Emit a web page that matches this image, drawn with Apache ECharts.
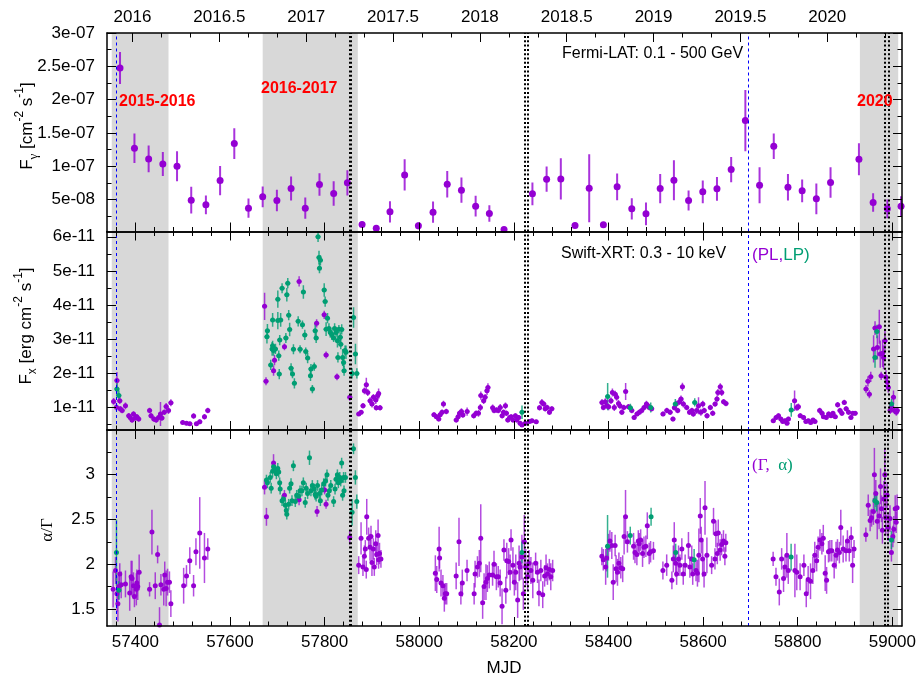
<!DOCTYPE html>
<html><head><meta charset="utf-8">
<script src="https://cdn.jsdelivr.net/npm/echarts@6/dist/echarts.min.js"></script>
<style>html,body{margin:0;padding:0;background:#fff}#c{width:919px;height:682px}</style>
</head><body><div id="c"></div><script>
// ---------------- DATA ----------------
// Fermi-LAT flux, units of 1e-8 cm^-2 s^-1 : [MJD, flux, error]
const fermiLAT = [
[57367.5,24.75,2.4],[57398,12.7,2.2],[57428,11.1,2.0],[57458,10.35,1.8],[57488,10.0,2.25],[57518,4.9,2.0],
[57549,4.2,1.4],[57579,7.85,2.2],[57609,13.4,2.3],[57639,3.7,1.45],[57669,5.4,1.55],[57699,4.85,1.6],
[57729,6.65,1.8],[57759,3.7,1.6],[57789,7.25,1.7],[57819,5.9,1.85],[57848,7.5,1.9],[57879,1.25,0.4],
[57909,0.7,0.3],[57938,3.15,1.6],[57969,8.7,2.35],[57998,1.05,0.5],[58029,3.1,1.6],[58059,7.3,2.0],
[58089,6.4,1.9],[58119,4.0,1.55],[58148,2.9,1.25],[58179,0.5,0.3],[58239,5.85,1.7],[58269,8.05,1.9],
[58299,8.1,3.1],[58329,1.1,0.4],[58359,6.7,5.1],[58389,1.2,0.4],[58418,6.9,2.0],[58449,3.6,1.6],
[58479,2.85,1.7],[58509,6.65,2.2],[58538,7.9,3.0],[58569,4.85,1.5],[58599,6.15,1.7],[58629,6.6,1.8],
[58659,9.5,1.9],[58689,16.85,4.6],[58719,7.15,2.7],[58749,13.0,1.9],[58779,6.85,2.0],[58809,6.3,1.7],
[58839,5.1,2.3],[58869,7.55,2.3],[58929,11.05,2.4],[58959,4.55,1.4],[58989,3.6,1.4],[59018,4.0,1.5]
];
// Swift-XRT flux (PL model), units of 1e-11 erg cm^-2 s^-1 : [MJD, flux, error]
const xrtFluxPL = [
[57354,1.17,.1],[57360,1.0,.1],[57361,1.78,.25],[57367,1.19,.1],[57368,0.95,.08],[57372,0.9,.08],[57379,1.04,.1],
[57386,0.75,.08],[57389,0.7,.08],[57393,0.62,.08],[57396,0.8,.08],[57400,0.68,.08],[57403,0.72,.08],[57407,0.65,.08],
[57430,0.9,.08],[57433,0.75,.08],[57439,0.65,.08],[57444,0.62,.08],[57449,0.7,.08],[57453,0.8,.35],[57456,0.68,.08],
[57461,0.85,.08],[57465,1.02,.1],[57470,0.9,.1],[57475,1.13,.1],[57500,0.55,.06],[57508,0.53,.06],[57515,0.51,.06],
[57523,0.74,.08],[57529,0.51,.06],[57536,0.57,.07],[57546,0.72,.08],[57553,0.9,.08],
[57673,3.96,.4],[57676,1.76,.12],[57692,2.07,.15],[57694,2.38,.15],[57715,2.77,.1],[57746,4.69,.15],[57783,3.46,.12],
[57799,3.71,.12],[57803,2.53,.1],[57826,1.89,.1],[57853,1.29,.1],
[57872,0.8,.06],[57877,0.85,.06],[57881,1.04,.08],[57884,1.48,.1],[57888,1.66,.2],[57891,1.43,.1],[57896,1.19,.1],
[57900,1.09,.1],[57903,1.29,.1],[57908,1.21,.12],[57909,0.98,.08],[57912,1.34,.12],[57914,1.4,.15],[57917,0.98,.08],
[58031,0.78,.07],[58036,0.72,.07],[58041,0.65,.07],[58044,0.78,.07],[58048,0.85,.08],[58051,1.09,.1],[58057,0.87,.08],
[58078,0.62,.07],[58082,0.72,.08],[58085,0.82,.08],[58089,0.87,.1],[58092,0.77,.08],[58101,0.87,.12],[58115,0.75,.08],
[58120,0.82,.08],[58125,0.82,.1],[58129,0.99,.1],[58130,1.34,.12],[58136,1.19,.1],[58139,1.29,.1],[58143,1.48,.12],
[58145,1.58,.12],[58155,0.98,.1],[58158,0.9,.08],[58163,0.92,.08],[58167,0.9,.08],[58171,0.99,.1],[58175,0.75,.08],
[58178,0.85,.08],[58182,1.04,.1],[58184,0.82,.08],[58187,0.62,.07],[58191,0.7,.07],[58194,0.72,.07],[58198,0.62,.07],
[58203,0.75,.07],[58206,0.62,.07],[58210,0.7,.07],[58213,0.53,.06],[58217,0.48,.06],[58224,0.53,.06],[58233,0.58,.06],
[58238,0.6,.06],[58247,0.57,.06],[58254,0.98,.08],[58259,1.14,.1],[58263,1.09,.08],[58266,0.95,.08],[58270,0.99,.08],
[58275,0.85,.08],[58280,0.95,.08],
[58386,1.14,.1],[58389,0.99,.08],[58393,1.16,.1],[58396,1.04,.08],[58400,1.01,.1],[58405,1.19,.1],[58408,1.43,.12],
[58412,0.99,.1],[58414,1.38,.1],[58417,1.29,.1],[58421,1.11,.1],[58424,1.04,.1],[58428,0.85,.08],[58432,0.99,.08],
[58436,1.46,.25],[58442,1.01,.08],[58449,0.9,.08],[58454,0.7,.07],[58460,0.8,.07],[58465,0.85,.08],[58470,0.9,.08],
[58475,0.99,.08],[58480,1.09,.1],[58483,1.04,.08],[58486,0.99,.08],[58491,0.95,.08],
[58515,0.8,.07],[58523,0.9,.08],[58530,0.85,.08],[58536,0.65,.07],[58539,0.98,.08],[58543,1.09,.1],[58546,0.9,.08],
[58550,1.16,.1],[58553,1.24,.1],[58556,1.6,.12],[58558,1.09,.1],[58565,0.99,.08],[58571,0.85,.08],[58576,0.9,.08],
[58579,0.8,.08],[58586,0.9,.1],[58590,1.04,.25],[58595,0.85,.1],[58599,1.09,.1],[58602,0.9,.08],[58608,0.75,.08],
[58615,0.99,.08],[58620,0.82,.08],[58625,1.09,.08],[58629,1.24,.1],[58631,1.43,.1],[58636,1.6,.1],[58639,1.43,.1],
[58643,1.16,.08],[58648,1.11,.08],
[58748,0.6,.06],[58754,0.7,.07],[58759,0.75,.07],[58764,0.65,.07],[58768,0.58,.06],[58773,0.6,.07],[58777,0.53,.06],
[58780,0.65,.07],[58793,1.19,.3],[58798,0.99,.1],[58801,1.01,.1],[58805,0.75,.07],[58812,0.7,.07],[58817,0.58,.06],
[58822,0.6,.06],[58827,0.55,.06],[58832,0.62,.06],[58836,0.58,.06],[58846,0.9,.08],[58851,0.82,.08],[58854,0.72,.07],
[58860,0.7,.07],[58865,0.8,.07],[58870,0.75,.07],[58874,0.82,.07],[58879,0.72,.07],[58884,1.07,.08],[58889,0.9,.08],
[58893,0.82,.08],[58898,1.14,.08],[58902,0.95,.08],[58907,0.85,.08],[58912,0.7,.07],[58916,0.82,.07],[58921,0.82,.07],
[58944,1.53,.12],[58948,1.76,.15],[58951,1.38,.12],[58954,1.89,.15],[58960,2.71,.4],[58963,3.32,.2],[58968,2.75,.35],
[58972,3.36,.5],[58974,2.56,.4],[58976,1.92,.12],[58979,2.58,.4],[58981,2.46,.35],[58984,2.95,.35],[58986,1.88,.2],
[58989,1.73,.15],[58991,1.58,.15],[58995,0.9,.1],[58998,1.01,.1],[59002,1.29,.2],[59004,0.9,.1],[59008,0.85,.1],[59010,0.9,.1]
];
// Swift-XRT flux (LP model), units of 1e-11 erg cm^-2 s^-1 : [MJD, flux, error]
const xrtFluxLP = [
[57361,1.53,.2],[57365,1.34,.15],
[57678,3.07,.2],[57679,3.24,.2],[57686,2.24,.15],[57689,2.71,.2],[57690,2.8,.15],[57690,3.56,.2],[57692,2.66,.15],
[57696,2.71,.15],[57701,4.17,.25],[57701,3.54,.25],[57703,2.51,.15],[57704,1.97,.15],[57705,2.97,.15],[57707,3.56,.2],
[57710,4.49,.15],[57718,3.03,.15],[57720,4.3,.2],[57722,4.64,.15],[57724,3.70,.15],[57726,3.28,.2],[57729,2.14,.15],
[57732,1.97,.12],[57734,2.70,.15],[57736,1.70,.15],[57744,3.52,.15],[57748,2.70,.12],[57753,3.42,.12],[57755,4.38,.2],
[57758,3.12,.15],[57760,2.63,.12],[57764,2.44,.15],[57770,1.92,.15],[57771,2.12,.15],[57774,1.53,.12],[57778,2.19,.12],
[57780,3.24,.2],[57782,3.03,.15],[57786,6.0,.15],[57788,5.39,.2],[57789,5.08,.15],[57791,5.31,.15],[57799,4.44,.2],
[57801,4.10,.15],[57803,3.29,.2],[57806,3.61,.15],[57809,3.31,.15],[57812,3.19,.15],[57815,3.13,.15],[57819,3.03,.12],
[57821,3.31,.15],[57824,3.19,.12],[57827,2.95,.2],[57828,2.46,.15],[57830,3.29,.12],[57833,3.05,.15],[57834,2.85,.15],
[57836,3.28,.15],[57838,2.46,.25],[57840,2.31,.15],[57841,2.07,.15],[57843,2.66,.15],[57845,2.61,.2],[57858,1.99,.15],
[57861,3.63,.3],[57865,2.56,.3],[57868,1.99,.15],
[58217,0.85,.2],[58398,1.31,.4],[58446,0.98,.12],[58489,0.99,.15],[58541,1.09,.15],[58582,1.14,.12],[58786,0.92,.2],
[58963,2.46,.3],[58967,3.22,.2],[58998,1.09,.15]
];
// PL photon index Gamma : [MJD, Gamma, error]
const gammaPL = [
[57353,1.72,.2],[57358,1.93,.15],[57361,1.67,.2],[57363,1.56,.2],[57365,1.75,.15],[57367,1.89,.12],[57370,1.77,.15],
[57379,1.78,.15],[57388,1.68,.2],[57391,1.86,.18],[57393,1.84,.2],[57396,1.76,.15],[57398,1.64,.12],[57402,1.72,.18],
[57403,1.79,.15],[57405,1.75,.15],[57408,1.91,.2],[57430,1.72,.08],[57435,2.36,.25],[57442,1.76,.15],[57447,2.11,.1],
[57451,1.32,.2],[57454,1.77,.12],[57460,1.72,.18],[57462,1.88,.15],[57465,1.73,.2],[57468,1.80,.15],[57472,1.80,.12],
[57475,1.56,.15],[57502,1.76,.2],[57508,1.87,.12],[57515,2.04,.15],[57523,1.76,.12],[57528,2.14,.15],[57536,2.35,.4],
[57546,2.07,.28],[57553,2.17,.12],
[57673,2.86,.08],[57677,2.53,.1],[57692,3.13,.1],[57715,2.77,.06],[57746,2.72,.06],[57784,2.59,.06],[57800,2.83,.05],
[57803,2.67,.05],[57853,2.30,.08],
[57872,1.99,.1],[57877,2.29,.18],[57881,1.97,.1],[57884,2.09,.12],[57886,2.17,.1],[57888,1.94,.1],[57889,2.53,.2],
[57893,2.29,.12],[57896,2.19,.15],[57898,2.31,.12],[57900,2.02,.15],[57903,2.17,.12],[57905,1.97,.1],[57908,2.23,.15],
[57910,2.11,.12],[57913,2.32,.18],[57914,2.05,.1],[57916,2.12,.12],[57919,2.06,.1],
[58034,1.90,.2],[58037,1.83,.15],[58042,2.17,.25],[58043,2.07,.12],[58046,1.79,.15],[58050,1.76,.12],[58053,1.62,.15],
[58055,1.67,.12],[58058,1.67,.12],[58078,1.87,.15],[58084,2.25,.27],[58088,1.67,.12],[58091,1.79,.15],[58101,1.93,.12],
[58116,1.67,.12],[58118,1.89,.15],[58123,1.97,.12],[58127,2.01,.15],[58130,2.29,.38],[58134,1.57,.18],[58137,1.75,.15],
[58141,1.80,.2],[58144,1.84,.15],[58148,1.88,.15],[58155,1.88,.12],[58158,2.0,.15],[58163,1.86,.15],[58167,1.86,.12],
[58171,1.79,.15],[58175,1.53,.2],[58179,2.16,.12],[58183,1.71,.15],[58185,2.04,.2],[58189,2.03,.15],[58192,1.91,.2],
[58194,2.27,.12],[58198,1.99,.2],[58201,1.80,.15],[58204,1.91,.2],[58208,1.60,.2],[58211,2.01,.2],[58213,1.97,.15],
[58217,2.08,.25],[58220,1.67,.18],[58222,2.25,.3],[58225,1.97,.2],[58229,1.86,.15],[58232,2.01,.15],[58236,1.93,.15],
[58240,1.82,.2],[58246,2.01,.12],[58250,1.91,.12],[58253,1.68,.15],[58257,1.93,.12],[58261,1.66,.15],[58265,1.87,.12],
[58268,1.96,.15],[58271,1.89,.12],[58275,1.94,.12],[58278,1.86,.15],[58282,1.93,.12],
[58386,2.09,.1],[58389,2.05,.12],[58394,1.97,.2],[58396,2.07,.15],[58400,2.19,.15],[58403,2.26,.12],[58407,2.21,.15],
[58410,1.80,.2],[58414,2.21,.12],[58416,1.95,.15],[58419,1.91,.15],[58422,2.01,.12],[58426,1.96,.12],[58430,1.95,.15],
[58433,2.31,.2],[58436,2.53,.3],[58440,2.25,.12],[58453,2.20,.15],[58456,2.13,.12],[58460,2.11,.12],[58463,2.26,.12],
[58465,2.23,.12],[58468,2.27,.12],[58472,2.12,.15],[58475,2.19,.12],[58479,2.20,.12],[58482,2.43,.15],[58486,2.12,.12],
[58489,2.14,.12],[58495,2.15,.1],
[58515,1.93,.1],[58523,1.99,.12],[58534,1.82,.1],[58537,2.06,.15],[58539,2.27,.2],[58542,2.01,.15],[58544,1.89,.12],
[58548,2.06,.15],[58551,1.99,.12],[58555,2.17,.12],[58558,1.89,.12],[58562,1.99,.12],[58569,2.21,.15],[58572,1.97,.12],
[58576,2.06,.15],[58578,1.89,.12],[58585,1.93,.12],[58588,1.90,.15],[58591,2.1,.3],[58594,2.54,.2],[58596,2.27,.15],
[58599,2.06,.2],[58602,1.89,.15],[58604,2.63,.3],[58608,2.1,.2],[58618,1.99,.1],[58622,2.48,.15],[58625,2.06,.12],
[58627,2.34,.15],[58630,2.12,.12],[58632,2.35,.15],[58636,2.16,.12],[58639,2.22,.12],[58643,2.26,.12],[58646,2.09,.1],
[58648,2.24,.1],
[58748,2.06,.08],[58754,1.86,.1],[58761,1.69,.15],[58766,2.06,.12],[58770,1.84,.15],[58773,1.97,.12],[58777,2.10,.25],
[58780,1.93,.15],[58794,1.93,.3],[58798,1.91,.2],[58805,1.86,.15],[58813,1.99,.12],[58818,1.67,.15],[58822,1.83,.15],
[58827,1.81,.2],[58832,1.93,.15],[58836,2.10,.15],[58840,2.04,.12],[58843,2.19,.12],[58847,2.27,.12],[58851,2.23,.12],
[58854,2.29,.15],[58858,1.90,.2],[58861,1.82,.15],[58865,2.14,.12],[58868,2.15,.12],[58872,2.15,.12],[58877,1.99,.15],
[58881,2.10,.15],[58884,2.16,.12],[58888,2.13,.12],[58891,2.41,.2],[58896,2.17,.15],[58902,2.15,.12],[58905,2.26,.12],
[58909,2.15,.12],[58913,2.30,.12],[58916,1.99,.2],[58919,2.17,.1],
[58944,2.33,.08],[58949,2.66,.12],[58953,2.49,.12],[58956,2.52,.1],[58960,2.59,.15],[58962,3.0,.3],[58965,2.79,.15],
[58968,2.48,.2],[58972,2.54,.15],[58975,2.87,.2],[58977,2.62,.15],[58979,2.38,.15],[58982,2.73,.2],[58984,3.0,.3],
[58986,2.52,.2],[58989,2.77,.15],[58991,2.41,.15],[58995,2.51,.15],[58998,2.13,.1],[59001,2.31,.12],[59003,2.39,.15],
[59006,2.62,.15],[59008,2.47,.12],[59010,2.63,.15]
];
// LP spectral index alpha : [MJD, alpha, error]
const alphaLP = [
[57360,2.13,.37],[57365,1.71,.1],
[57677,2.94,.06],[57679,2.91,.06],[57685,2.97,.06],[57687,2.85,.06],[57690,3.04,.07],[57692,3.09,.06],[57696,3.05,.06],
[57698,3.01,.06],[57701,3.07,.06],[57703,3.03,.06],[57705,2.91,.06],[57706,2.84,.06],[57710,2.71,.06],[57713,2.73,.06],
[57717,2.66,.06],[57719,2.60,.06],[57720,2.56,.06],[57724,2.67,.06],[57726,2.85,.06],[57729,2.9,.06],[57731,2.71,.06],
[57734,3.1,.06],[57738,2.70,.06],[57741,2.77,.06],[57745,2.76,.06],[57748,2.82,.06],[57752,2.82,.06],[57755,2.91,.06],
[57759,2.69,.06],[57761,2.85,.06],[57764,2.79,.06],[57768,3.19,.08],[57771,2.82,.06],[57774,2.88,.06],[57778,2.84,.06],
[57780,2.78,.06],[57782,2.76,.06],[57785,2.88,.06],[57789,2.79,.06],[57791,2.71,.06],[57794,2.83,.06],[57798,2.90,.06],
[57802,2.93,.06],[57805,3.0,.06],[57807,2.77,.06],[57810,2.82,.06],[57813,2.88,.06],[57819,2.70,.06],[57822,2.84,.06],
[57824,2.95,.06],[57827,3.0,.06],[57829,2.91,.06],[57832,2.97,.06],[57834,2.93,.06],[57836,3.13,.06],[57838,2.77,.06],
[57840,2.97,.06],[57841,2.82,.06],[57844,2.97,.06],[57858,2.58,.15],[57861,3.29,.06],[57865,2.97,.08],[57868,2.70,.08],
[58217,2.13,.12],[58398,2.2,.35],[58446,2.32,.1],[58490,2.53,.1],[58542,2.13,.1],[58581,2.05,.12],[58786,2.08,.15],
[58963,2.71,.1],[58967,2.69,.1],[58998,2.27,.1]
];
// tick labels
const mjdTickValues = [57400, 57600, 57800, 58000, 58200, 58400, 58600, 58800, 59000];
const yearTickValues = [2016, 2016.5, 2017, 2017.5, 2018, 2018.5, 2019, 2019.5, 2020];
const fermiTickValues = [5, 10, 15, 20, 25, 30];
const fermiTickLabels = ['5e-08', '1e-07', '1.5e-07', '2e-07', '2.5e-07', '3e-07'];
const xrtTickValues = [1, 2, 3, 4, 5, 6];
const xrtTickLabels = ['1e-11', '2e-11', '3e-11', '4e-11', '5e-11', '6e-11'];
const indexTickValues = [1.5, 2, 2.5, 3];
const indexTickLabels = ['1.5', '2', '2.5', '3'];
// periods / reference epochs
const shadedPeriods = [[57350, 57470], [57669, 57870], [58931, 59012]];
const shadedLabels = ['2015-2016', '2016-2017', '2020'];
const blueEpochs = [57360, 58696];
const dottedEpochs = [57854, 58222, 58229, 58984, 58991];

// ---------------- LAYOUT ----------------
const FONT = "'Liberation Sans', Arial, sans-serif";
const SERIF = "'Liberation Serif', 'DejaVu Serif', serif";
const PURPLE = '#9400d3', GREEN = '#009e73';
const MJD_MIN = 57340, MJD_MAX = 59020;
const YEAR_MIN = 2015.853, YEAR_MAX = 2020.4305;
const grids = [
  {left: 107, top: 33, width: 795, height: 198.5},
  {left: 107, top: 231.5, width: 795, height: 198.5},
  {left: 107, top: 430, width: 795, height: 196}
];
const yRanges = [[0.2, 30], [0.33, 6.155], [1.31, 3.5]];
const yMajor = [fermiTickValues, xrtTickValues, indexTickValues];
const yLabels = [fermiTickLabels, xrtTickLabels, indexTickLabels];
function stepList(a, b, s) { const r = []; for (let k = 0; a + k * s <= b + 1e-9; k++) r.push(+(a + k * s).toFixed(6)); return r; }
const yMinor = [stepList(2.5, 30, 2.5), stepList(0.5, 6, 0.5), stepList(1.5, 3.5, 0.25)];
const mjdMinor = stepList(57360, 59000, 40);
const yearMinor = stepList(2016 - 1 / 6, 2020.4, 1 / 6);
const MAJ = 9, MIN = 4.5;

function axisBase(extra) {
  return Object.assign({
    type: 'value', z: 6, splitLine: {show: false},
    axisLine: {show: false, onZero: false, lineStyle: {color: '#000', width: 1.5}},
    axisLabel: {show: false}
  }, extra);
}
function ticks(values, len) {
  return {show: true, inside: true, length: len, customValues: values, lineStyle: {color: '#000', width: 1}};
}
const xAxis = [], yAxis = [];
for (let g = 0; g < 3; g++) {
  // bottom major
  xAxis.push(axisBase({gridIndex: g, position: 'bottom', min: MJD_MIN, max: MJD_MAX,
    axisLine: {show: true, onZero: false, lineStyle: {color: '#000', width: 1.5}},
    axisTick: ticks(mjdTickValues, MAJ),
    axisLabel: {show: g === 2, customValues: mjdTickValues, formatter: v => String(v), margin: 8,
      fontSize: 17, fontFamily: FONT, color: '#000'}}));
  xAxis.push(axisBase({gridIndex: g, position: 'bottom', min: MJD_MIN, max: MJD_MAX, axisTick: ticks(mjdMinor, MIN)}));
  if (g === 0) {
    xAxis.push(axisBase({gridIndex: g, position: 'top', min: YEAR_MIN, max: YEAR_MAX,
      axisLine: {show: true, onZero: false, lineStyle: {color: '#000', width: 1.5}},
      axisTick: ticks(yearTickValues, MAJ),
      axisLabel: {show: true, customValues: yearTickValues, formatter: v => String(v), margin: 7,
        fontSize: 17, fontFamily: FONT, color: '#000'}}));
    xAxis.push(axisBase({gridIndex: g, position: 'top', min: YEAR_MIN, max: YEAR_MAX, axisTick: ticks(yearMinor, MIN)}));
  } else {
    xAxis.push(axisBase({gridIndex: g, position: 'top', min: MJD_MIN, max: MJD_MAX,
      axisLine: {show: true, onZero: false, lineStyle: {color: '#000', width: 1.5}},
      axisTick: ticks(mjdTickValues, MAJ)}));
    xAxis.push(axisBase({gridIndex: g, position: 'top', min: MJD_MIN, max: MJD_MAX, axisTick: ticks(mjdMinor, MIN)}));
  }
  const [ymin, ymax] = yRanges[g];
  const vals = yMajor[g], labs = yLabels[g];
  yAxis.push(axisBase({gridIndex: g, position: 'left', min: ymin, max: ymax,
    axisLine: {show: true, onZero: false, lineStyle: {color: '#000', width: 1.5}},
    axisTick: ticks(vals, MAJ),
    axisLabel: {show: true, customValues: vals, margin: 12, fontSize: 17, fontFamily: FONT, color: '#000',
      formatter: v => { let bi = 0; vals.forEach((t, i) => { if (Math.abs(t - v) < Math.abs(vals[bi] - v)) bi = i; }); return labs[bi]; }}}));
  yAxis.push(axisBase({gridIndex: g, position: 'left', min: ymin, max: ymax, axisTick: ticks(yMinor[g], MIN)}));
  yAxis.push(axisBase({gridIndex: g, position: 'right', min: ymin, max: ymax,
    axisLine: {show: true, onZero: false, lineStyle: {color: '#000', width: 1.5}},
    axisTick: ticks(vals, MAJ)}));
  yAxis.push(axisBase({gridIndex: g, position: 'right', min: ymin, max: ymax, axisTick: ticks(yMinor[g], MIN)}));
}

function errBars(color, width, cap, alpha) {
  return function (params, api) {
    const x = api.value(0), v = api.value(1), e = api.value(2);
    const lo = api.coord([x, v - e]), hi = api.coord([x, v + e]), c = api.coord([x, v]);
    const st = {stroke: color, lineWidth: width, opacity: alpha};
    const ch = [{type: 'line', shape: {x1: lo[0], y1: lo[1], x2: hi[0], y2: hi[1]}, style: st}];
    if (cap) ch.push({type: 'line', shape: {x1: c[0] - cap, y1: c[1], x2: c[0] + cap, y2: c[1]}, style: st});
    return {type: 'group', children: ch};
  };
}
const series = [];
function addSet(g, data, color, size, ew, cap, alpha) {
  series.push({type: 'custom', xAxisIndex: 4 * g, yAxisIndex: 4 * g, data: data, clip: true, z: 3,
    encode: {x: 0, y: 1}, renderItem: errBars(color, ew, cap, alpha), silent: true});
  series.push({type: 'scatter', xAxisIndex: 4 * g, yAxisIndex: 4 * g, data: data.map(d => [d[0], d[1]]),
    symbol: 'circle', symbolSize: size, itemStyle: {color: color, opacity: 1}, z: 4, silent: true});
}
for (let g = 0; g < 3; g++) {
  const ml = blueEpochs.map(v => ({xAxis: v, lineStyle: {color: '#0000ff', type: [3, 3], width: 1}}))
    .concat(dottedEpochs.map((v, i) => ({xAxis: v, lineStyle: {color: '#000', type: [2, 2.3], width: i === 0 ? 3 : 2}})));
  series.push({type: 'line', xAxisIndex: 4 * g, yAxisIndex: 4 * g, data: [], z: 1, silent: true,
    markArea: {silent: true, itemStyle: {color: '#d8d8d8'}, data: shadedPeriods.map(p => [{xAxis: p[0]}, {xAxis: p[1]}])},
    markLine: {silent: true, symbol: ['none', 'none'], label: {show: false}, data: ml}});
}
addSet(0, fermiLAT, PURPLE, 7, 2, 0, 0.8);
addSet(1, xrtFluxPL, PURPLE, 5, 1.5, 2.5, 0.75);
addSet(1, xrtFluxLP, GREEN, 5, 1.5, 2.5, 0.8);
addSet(2, gammaPL, PURPLE, 5, 1.5, 0, 0.7);
addSet(2, alphaLP, GREEN, 5, 1.5, 0, 0.8);

function t(x, y, text, o) {
  o = o || {};
  return {type: 'text', x: x, y: y, rotation: o.rot || 0, z: 20, silent: true,
    style: {text: text, fontSize: o.size || 16, fontFamily: o.family || FONT, fontWeight: o.weight || 'normal',
      fill: o.color || '#000', align: o.align || 'left', verticalAlign: 'middle',
      textAlign: o.align || 'left', textVerticalAlign: 'middle', rich: o.rich}};
}
const supSub = {
  n: {fontSize: 17, fontFamily: FONT, fill: '#000', lineHeight: 26},
  sup: {fontSize: 12, fontFamily: FONT, fill: '#000', verticalAlign: 'top', lineHeight: 14},
  sub: {fontSize: 12, fontFamily: FONT, fill: '#000', verticalAlign: 'bottom', lineHeight: 14},
  subs: {fontSize: 13, fontFamily: SERIF, fill: '#000', verticalAlign: 'bottom', lineHeight: 14}
};
const graphic = [
  t(27, 126, '{n|F}{subs|γ}{n| [cm}{sup|-2}{n| s}{sup|-1}{n|]}', {rot: Math.PI / 2, align: 'center', rich: supSub}),
  t(26, 326, '{n|F}{sub|x}{n| [erg cm}{sup|-2}{n| s}{sup|-1}{n|]}', {rot: Math.PI / 2, align: 'center', rich: supSub}),
  t(48, 530, 'α/Γ', {rot: Math.PI / 2, align: 'center', family: SERIF, size: 17}),
  t(504, 668, 'MJD', {align: 'center', size: 17}),
  t(562, 54, 'Fermi-LAT: 0.1 - 500 GeV', {size: 16}),
  t(561, 254, 'Swift-XRT: 0.3 - 10 keV', {size: 16}),
  t(752, 255, '{p|(PL,}{g|LP)}', {rich: {p: {fontSize: 17, fontFamily: FONT, fill: PURPLE}, g: {fontSize: 17, fontFamily: FONT, fill: GREEN}}}),
  t(752, 466, '{p|(Γ,  }{g|α)}', {rich: {p: {fontSize: 17, fontFamily: SERIF, fill: PURPLE}, g: {fontSize: 17, fontFamily: SERIF, fill: GREEN}}}),
  t(119, 102, shadedLabels[0], {size: 16, weight: 'bold', color: '#ff0000'}),
  t(261, 89, shadedLabels[1], {size: 16, weight: 'bold', color: '#ff0000'}),
  t(857, 102, shadedLabels[2], {size: 16, weight: 'bold', color: '#ff0000'})
];

const chart = echarts.init(document.getElementById('c'), null, {renderer: 'canvas'});
chart.setOption({
  animation: false, backgroundColor: '#fff',
  grid: grids, xAxis: xAxis, yAxis: yAxis, series: series, graphic: graphic
});
</script></body></html>
